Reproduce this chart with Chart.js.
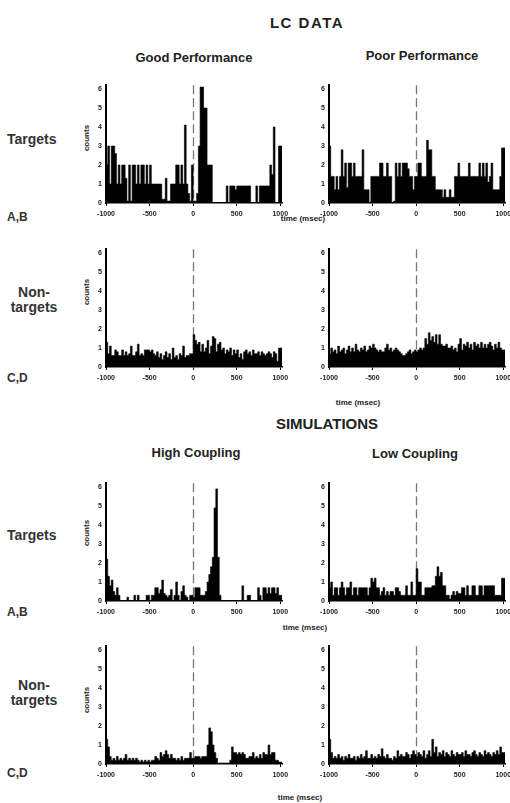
<!DOCTYPE html>
<html>
<head>
<meta charset="utf-8">
<script src="https://cdn.jsdelivr.net/npm/chart.js@4.4.1/dist/chart.umd.min.js"></script>
<style>
  html, body { margin: 0; padding: 0; background: #fff; overflow: hidden; }
  body { width: 510px; height: 803px; position: relative; font-family: "Liberation Sans", Arial, sans-serif; color: #222; }
  .t { position: absolute; white-space: nowrap; font-weight: bold; transform: translate(-50%, -50%); }
  .l { position: absolute; white-space: nowrap; font-weight: bold; transform: translate(0, -50%); color: #333; }
  .c { position: absolute; white-space: nowrap; font-weight: bold; font-size: 8px; transform: translate(-50%, -50%) rotate(-90deg); }
  .tm { position: absolute; white-space: nowrap; font-weight: bold; font-size: 8px; transform: translate(-50%, -50%); }
  canvas { position: absolute; }
</style>
</head>
<body>
<div class="t" style="left:307px;top:22px;font-size:15px;letter-spacing:1.5px">LC DATA</div>
<div class="t" style="left:194px;top:57px;font-size:13px">Good Performance</div>
<div class="t" style="left:422px;top:55px;font-size:13px">Poor Performance</div>
<div class="t" style="left:327px;top:423px;font-size:15px">SIMULATIONS</div>
<div class="t" style="left:196px;top:452px;font-size:13px">High Coupling</div>
<div class="t" style="left:415px;top:453px;font-size:13px">Low Coupling</div>

<div class="l" style="left:7px;top:139px;font-size:14px">Targets</div>
<div class="l" style="left:7px;top:217px;font-size:12px">A,B</div>
<div class="t" style="left:34px;top:300px;font-size:14px;text-align:center;line-height:15px;color:#333">Non-<br>targets</div>
<div class="l" style="left:7px;top:378px;font-size:12px">C,D</div>
<div class="l" style="left:7px;top:535px;font-size:14px">Targets</div>
<div class="l" style="left:7px;top:612px;font-size:12px">A,B</div>
<div class="t" style="left:34px;top:693px;font-size:14px;text-align:center;line-height:15px;color:#333">Non-<br>targets</div>
<div class="l" style="left:7px;top:773px;font-size:12px">C,D</div>

<div class="c" style="left:86px;top:138px">counts</div>
<div class="c" style="left:86px;top:292px">counts</div>
<div class="c" style="left:86px;top:533px">counts</div>
<div class="c" style="left:86px;top:700px">counts</div>

<div class="tm" style="left:303px;top:218px">time (msec)</div>
<div class="tm" style="left:358px;top:402px">time (msec)</div>
<div class="tm" style="left:305px;top:627px">time (msec)</div>
<div class="tm" style="left:300px;top:797px">time (msec)</div>

<script>
// histogram bins: 20 ms wide, starting at -1000 ms
const BIN_MS = 20;
const T_START = -1000;
const T_END = 1020;
const Y_MAX = 6.2;

const goodTargets = [
  2, 3, 1, 3, 3, 2.6, 1, 2, 1, 2,
  2, 1.3, 0.1, 2, 0.1, 2, 2, 1, 2, 1,
  2, 2, 1, 2, 1, 2, 1, 1, 1, 1,
  1, 1, 0.2, 0.2, 1.3, 0.1, 0.1, 1, 1, 1,
  2, 2, 1, 2, 1, 4.1, 1, 0.5, 0.1, 2,
  0.1, 0.1, 0.5, 3, 6.1, 6.1, 5, 5, 2, 2,
  2, 0, 0, 0, 0, 0, 0, 0, 0, 0.9,
  0, 0.9, 0.9, 0.9, 0.7, 0.9, 0.9, 0.9, 0.9, 0.9,
  0.9, 0.9, 0.9, 0, 0, 0, 0.9, 0, 0.9, 0.9,
  0.9, 0.9, 0.9, 0.9, 2, 1.5, 4, 0, 0, 3
];

const poorTargets = [
  3, 1.4, 1.4, 0.7, 1.4, 0.7, 1.4, 2.8, 1.4, 2.1,
  0.8, 2.1, 2.1, 1.4, 2.1, 1.4, 1.4, 1.4, 1.4, 2.8,
  0.7, 0.7, 0.7, 0, 1.4, 1.4, 1.4, 1.4, 1.4, 2.1,
  2.1, 1.4, 1.4, 2.1, 1.4, 1.4, 0, 0.1, 2.1, 1.4,
  2.1, 1.4, 2.1, 2.1, 2.1, 1.8, 1.4, 1.4, 0.7, 1.4,
  1.4, 2.1, 2.1, 1.4, 1.4, 1.4, 3.3, 2.8, 2.8, 1.4,
  1.4, 0.7, 0.7, 0.7, 0.7, 0.3, 0.7, 0.3, 0.3, 0.7,
  0.3, 0.3, 1.4, 1.4, 2.1, 1.4, 1.4, 1.4, 1.4, 1.4,
  2.1, 1.4, 1.4, 1.4, 1.4, 1.4, 2.1, 1.4, 2.1, 1.4,
  2.1, 1.1, 1.4, 2.1, 0.7, 0.7, 0.7, 0.7, 1.4, 2.9
];

const goodNontargets = [
  1.3, 0.7, 1.1, 0.6, 0.6, 0.9, 0.8, 0.6, 0.6, 0.9, 0.6, 0.8, 0.6, 0.7, 1.1, 0.6, 0.6, 0.8, 1.2, 0.6, 0.7, 0.6, 0.9, 0.9, 0.9,
  0.8, 0.9, 0.7, 0.6, 0.8, 0.5, 0.7, 0.4, 0.6, 0.8, 0.5, 0.7, 0.4, 1.0, 0.5, 0.6, 0.4, 0.7, 0.6, 1.1, 0.5, 0.6, 0.6, 0.7, 0.7,
  1.7, 1.4, 1.2, 1.3, 0.8, 1.2, 0.8, 1.0, 1.4, 0.7, 1.1, 1.6, 1.5, 0.8, 1.2, 1.3, 0.9, 1.0, 0.7, 0.9, 0.8, 1.0, 0.6, 0.9, 0.7,
  0.9, 0.5, 0.7, 0.4, 0.8, 0.9, 0.7, 0.8, 0.6, 0.9, 0.7, 0.7, 0.8, 0.6, 0.8, 0.7, 0.6, 0.7, 0.8, 0.7, 0.5, 0.8, 0.7, 0.3, 1.0
];

const poorNontargets = [
  0.7, 1.0, 0.8, 0.9, 0.7, 1.1, 0.8, 0.9, 1.0, 0.7, 0.9, 1.1, 0.8, 1.0, 0.8, 1.2, 0.9, 0.8, 1.0, 0.9, 1.1, 0.8, 0.9, 1.1, 1.0,
  1.2, 1.0, 0.9, 0.8, 0.9, 0.8, 0.8, 1.0, 1.2, 0.9, 1.0, 0.8, 0.9, 1.0, 0.9, 0.8, 0.7, 0.6, 0.6, 0.7, 0.8, 0.9, 0.7, 0.8, 0.9,
  0.8, 0.9, 1.0, 0.9, 1.0, 1.5, 1.2, 1.8, 1.4, 1.6, 1.3, 1.7, 1.2, 1.7, 1.2, 1.1, 1.1, 1.2, 1.0, 1.0, 1.1, 0.9, 1.0, 0.8, 1.2,
  1.5, 0.9, 1.2, 1.1, 1.3, 1.0, 1.2, 0.9, 1.3, 1.1, 1.2, 1.0, 1.3, 1.0, 1.2, 1.0, 1.2, 1.3, 1.1, 0.9, 1.2, 1.0, 1.3, 1.0, 0.9
];

const highTargets = [
  2.2, 1.3, 0.8, 1.1, 0.5, 0.3, 0.7, 0.3, 0, 0,
  0, 0, 0.2, 0, 0, 0, 0.3, 0, 0.3, 0,
  0, 0, 0, 0.3, 0.3, 0, 0.3, 0.3, 0.7, 0.7,
  0.4, 0.6, 1.1, 0.4, 0.3, 0.2, 0.3, 0.6, 0, 0.3,
  1.0, 0.3, 0, 0.5, 0.8, 0.3, 0.2, 0, 0.3, 0.3,
  0.2, 0.7, 0.7, 0.7, 0.3, 0.3, 0.3, 0.5, 1.0, 1.4,
  1.8, 2.3, 4.9, 5.9, 2.3, 0.3, 0, 0, 0, 0,
  0, 0, 0, 0, 0, 0, 0, 0, 0.8, 0,
  0, 0.3, 0.3, 0, 0, 0, 0, 0.7, 0.3, 0,
  0.7, 0.7, 0.4, 0.7, 0.4, 0.7, 0.7, 0.4, 0.7, 0.3
];

const lowTargets = [
  0.7, 1.0, 0.3, 0.7, 0.7, 0.3, 0.7, 1.0, 0.7, 0.3,
  0.7, 0.7, 1.0, 0.3, 0.7, 0.7, 0.3, 0.7, 0.7, 0.7,
  0.7, 0.7, 0.3, 0.7, 1.2, 1.0, 1.2, 0.7, 0.7, 0.3,
  0.5, 0.7, 0.3, 0.5, 0.3, 0.5, 0.5, 0.3, 0.7, 0.7,
  0.5, 0.3, 0.3, 0.3, 0.8, 0.3, 0.3, 1.0, 0.3, 0.3,
  1.7, 1.0, 1.0, 0.3, 0.3, 0.7, 0.7, 0.7, 0.7, 0.8,
  0.8, 1.3, 1.8, 1.3, 1.5, 0.8, 0.8, 0.3, 0.3, 0.1,
  0.3, 0.5, 0.3, 0.5, 0.4, 0.4, 0.7, 0.7, 0.3, 0.8,
  0.3, 0.3, 0.8, 0.8, 0.3, 0.3, 0.8, 0.8, 0.3, 0.8,
  0.8, 0.8, 0.8, 0.8, 0.8, 0.3, 0.3, 0.3, 0.3, 1.2
];

const highNontargets = [
  1.3, 0.9, 0.4, 0.2, 0.3, 0.2, 0.4, 0.2, 0.3, 0.2,
  0.3, 0.5, 0.2, 0.3, 0.2, 0.3, 0.2, 0.3, 0.2, 0.1,
  0.2, 0.1, 0.2, 0.1, 0.2, 0.1, 0.2, 0.2, 0.4, 0.3,
  0.2, 0.6, 0.4, 0.5, 0.7, 0.5, 0.3, 0.5, 0.3, 0.3,
  0.2, 0.3, 0.2, 0.4, 0.2, 0.3, 0.3, 0.3, 0.6, 0.3,
  0.3, 0.4, 0.4, 0.4, 0.3, 0.4, 0.4, 0.4, 1.0, 1.9,
  1.7, 1.0, 0.6, 0.3, 0.05, 0.05, 0.05, 0.05, 0.05, 0.05,
  0.05, 0.2, 0.9, 0.6, 0.6, 0.5, 0.6, 0.5, 0.6, 0.5,
  0.3, 0.3, 0.4, 0.4, 0.6, 0.3, 0.4, 0.3, 0.5, 0.3,
  0.6, 0.5, 0.5, 1.0, 0.5, 0.6, 0.6, 0.2, 0.2, 0.1
];

const lowNontargets = [
  1.3, 0.6, 0.3, 0.4, 0.3, 0.5, 0.3, 0.4, 0.2, 0.4, 0.3, 0.5, 0.3, 0.3, 0.4, 0.2, 0.4, 0.3, 0.5, 0.3, 0.4, 0.7, 0.3, 0.3, 0.5,
  0.3, 0.4, 0.3, 0.5, 0.4, 0.8, 0.4, 0.3, 0.5, 0.3, 0.3, 0.2, 0.4, 0.3, 0.7, 0.4, 0.5, 0.4, 0.4, 0.6, 0.5, 0.3, 0.5, 0.7, 0.5,
  0.4, 0.6, 0.5, 0.4, 0.7, 0.3, 0.5, 0.7, 0.4, 1.3, 0.6, 0.9, 0.4, 0.6, 0.5, 0.7, 0.4, 0.6, 0.5, 0.4, 0.7, 0.5, 0.4, 0.6, 0.5,
  0.5, 0.6, 0.4, 0.7, 0.5, 0.5, 0.4, 0.6, 0.7, 0.5, 0.4, 0.6, 0.5, 0.4, 0.7, 0.5, 0.6, 0.5, 0.4, 0.6, 0.5, 0.7, 0.5, 0.9, 0.6
];

const xTicks = [-1000, -500, 0, 500, 1000];
const yTicks = [0, 1, 2, 3, 4, 5, 6];

// layout of plot areas (px)
const COL_LEFT = [106, 329];
const ROW_TOP = [83, 247, 481, 644];
const PLOT_W = 176;
const PLOT_H = 120;
const YW = 22;   // y axis box width
const XH = 20;   // x axis box height
const PT = 6;    // top padding
const PR = 12;   // right padding

const panels = [
  { vals: goodTargets, col: 0, row: 0 },
  { vals: poorTargets, col: 1, row: 0 },
  { vals: goodNontargets, col: 0, row: 1 },
  { vals: poorNontargets, col: 1, row: 1 },
  { vals: highTargets, col: 0, row: 2 },
  { vals: lowTargets, col: 1, row: 2 },
  { vals: highNontargets, col: 0, row: 3 },
  { vals: lowNontargets, col: 1, row: 3 }
];

const FONT = '"Liberation Sans", Arial, sans-serif';

function toPoints(vals) {
  const pts = vals.map((v, i) => ({ x: T_START + i * BIN_MS, y: v }));
  pts.push({ x: T_END, y: vals[vals.length - 1] });
  return pts;
}

// dashed marker at time 0, drawn under the bars
const zeroLine = {
  id: 'zeroLine',
  beforeDatasetsDraw(chart) {
    const { ctx, scales: { x, y } } = chart;
    const px = Math.round(x.getPixelForValue(0)) + 0.5;
    ctx.save();
    ctx.strokeStyle = '#777';
    ctx.lineWidth = 1.3;
    ctx.setLineDash([9, 4]);
    ctx.beginPath();
    ctx.moveTo(px, y.getPixelForValue(Y_MAX));
    ctx.lineTo(px, y.getPixelForValue(0));
    ctx.stroke();
    ctx.restore();
  }
};

panels.forEach(p => {
  const canvas = document.createElement('canvas');
  const w = PLOT_W + YW + PR;
  const h = PLOT_H + PT + XH;
  canvas.width = w;
  canvas.height = h;
  canvas.style.width = w + 'px';
  canvas.style.height = h + 'px';
  canvas.style.left = (COL_LEFT[p.col] - YW) + 'px';
  canvas.style.top = (ROW_TOP[p.row] - PT) + 'px';
  document.body.appendChild(canvas);

  new Chart(canvas.getContext('2d'), {
    type: 'line',
    data: {
      datasets: [{
        data: toPoints(p.vals),
        stepped: true,
        fill: 'origin',
        backgroundColor: '#000',
        borderColor: '#000',
        borderWidth: 0.6,
        pointRadius: 0,
        tension: 0
      }]
    },
    options: {
      responsive: false,
      animation: false,
      events: [],
      layout: { padding: { left: 0, top: PT, right: PR, bottom: 0 } },
      plugins: { legend: { display: false }, tooltip: { enabled: false } },
      scales: {
        x: {
          type: 'linear',
          min: T_START,
          max: T_END,
          afterFit: s => { s.height = XH; },
          afterBuildTicks: s => { s.ticks = xTicks.map(v => ({ value: v })); },
          border: { display: true, color: '#000', width: 1.5 },
          grid: { display: true, drawOnChartArea: false, drawTicks: true, tickLength: 3, color: '#000', lineWidth: 1 },
          ticks: {
            autoSkip: false, maxRotation: 0, padding: 4, color: '#222',
            font: { family: FONT, size: 7, weight: 'bold' },
            callback: v => String(v)
          }
        },
        y: {
          min: 0,
          max: Y_MAX,
          afterFit: s => { s.width = YW; },
          afterBuildTicks: s => { s.ticks = yTicks.map(v => ({ value: v })); },
          border: { display: true, color: '#000', width: 2 },
          grid: { display: false, drawTicks: false },
          ticks: {
            padding: 4, color: '#222',
            font: { family: FONT, size: 7, weight: 'bold' },
            callback: v => String(v)
          }
        }
      }
    },
    plugins: [zeroLine]
  });
});
</script>
</body>
</html>
